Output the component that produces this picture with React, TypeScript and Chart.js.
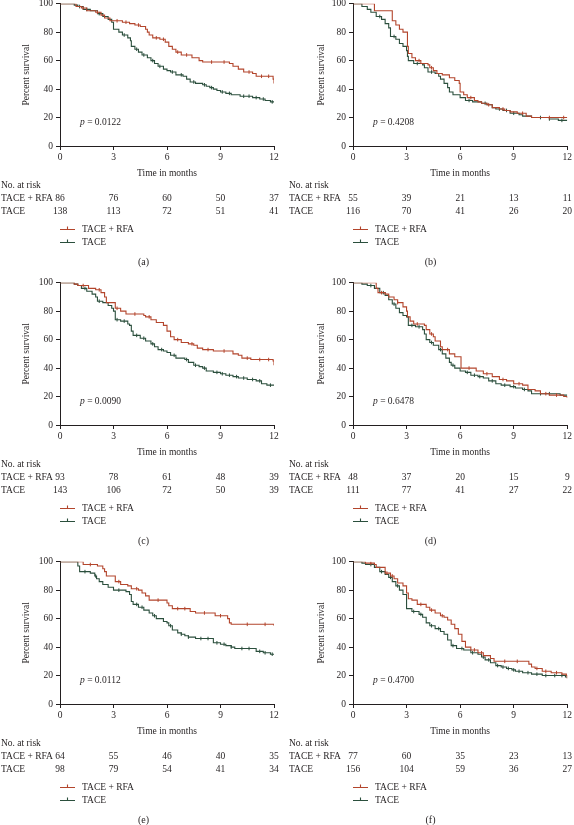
import React, { useEffect, useRef } from 'react';
import { Chart, registerables } from 'chart.js';

Chart.register(...registerables);

type Pt = [number, number];

const MONTH_TICKS = [0, 3, 6, 9, 12];
const SURVIVAL_TICKS = [0, 20, 40, 60, 80, 100];
const GROUP_NAMES = ['TACE + RFA', 'TACE'];
const PANEL_CAPTIONS = ['(a)', '(b)', '(c)', '(d)', '(e)', '(f)'];
const P_VALUES = ['0.0122', '0.4208', '0.0090', '0.6478', '0.0112', '0.4700'];

// ---------- panel (a)
const A_RFA: Pt[] = [[0,100],[0.9,98],[1.2,97],[1.5,95],[2.0,94],[2.3,92],[2.5,90],[2.8,88],[3.5,87],[3.9,86],[4.2,85],[4.5,84],[4.8,82],[4.9,80],[5.0,78],[5.2,76],[5.6,75],[5.9,73],[6.1,70],[6.3,68],[6.5,66],[6.8,64],[7.4,62],[7.8,60],[8.0,59],[9.5,58],[9.7,56],[10.0,54],[10.3,52],[10.8,51],[11.0,49],[11.95,47],[12,44]];
const A_TACE: Pt[] = [[0,100],[0.8,99],[1.0,98],[1.3,96],[1.7,95],[2.1,93],[2.4,91],[2.7,89],[2.9,87],[3.0,82],[3.3,80],[3.5,78],[3.8,76],[3.95,74],[4.0,70],[4.2,68],[4.4,66],[4.6,64],[4.9,62],[5.1,60],[5.3,58],[5.5,56],[5.8,54],[6.0,53],[6.2,52],[6.5,50],[6.9,49],[7.1,47],[7.3,45],[7.6,44],[8.0,43],[8.2,42],[8.4,41],[8.6,40],[8.8,39],[9.0,38],[9.3,37],[9.6,36],[10.1,35],[10.8,34],[11.2,33],[11.5,32],[11.8,31],[12,31]];
const A_RFA_CENSOR = [1.3, 2.1, 3.2, 3.7, 4.4, 5.4, 5.8, 6.6, 7.1, 8.5, 9.2, 10.6, 11.3, 11.7];
const A_TACE_CENSOR = [1.1, 1.5, 2.2, 3.6, 4.3, 4.7, 5.2, 5.6, 6.3, 6.8, 7.5, 8.1, 8.5, 9.1, 9.5, 10.3, 10.6, 11.0, 11.4, 11.9];
const A_RISK_RFA = [86, 76, 60, 50, 37];
const A_RISK_TACE = [138, 113, 72, 51, 41];

// ---------- panel (b)
const B_RFA: Pt[] = [[0,100],[1.2,95],[2.2,88],[2.4,85],[2.6,82],[2.8,80],[3.05,70],[3.1,65],[3.3,62],[3.5,60],[3.8,58],[4.2,57],[4.3,55],[4.5,53],[4.7,51],[5.0,50],[5.4,48],[5.7,46],[5.95,44],[6.0,38],[6.2,36],[6.4,34],[6.8,32],[7.0,31],[7.2,30],[7.5,29],[7.8,27],[8.2,26],[8.5,25],[8.8,24],[9.2,23],[9.7,21],[10.0,20],[12,20]];
const B_TACE: Pt[] = [[0,100],[0.5,98],[0.8,96],[1.0,94],[1.3,91],[1.6,89],[1.8,86],[2.0,83],[2.1,77],[2.4,75],[2.6,72],[2.8,70],[3.0,67],[3.05,63],[3.1,60],[3.4,58],[3.9,57],[4.0,55],[4.2,52],[4.6,51],[4.8,49],[4.9,47],[5.1,44],[5.3,41],[5.4,38],[5.6,36],[6.0,34],[6.3,32],[6.7,31],[7.2,30],[7.5,29],[7.8,27],[8.0,26],[8.4,25],[8.8,23],[9.3,22],[9.5,21],[10.0,20],[11.0,19],[11.5,18],[12,18]];
const B_RFA_CENSOR = [3.7, 4.4, 6.6, 7.6, 8.4, 9.5, 11.0, 11.8];
const B_TACE_CENSOR = [1.5, 2.3, 3.6, 4.4, 6.5, 7.4, 8.2, 8.6, 9.0, 10.5, 11.0, 11.7];
const B_RISK_RFA = [55, 39, 21, 13, 11];
const B_RISK_TACE = [116, 70, 41, 26, 20];

// ---------- panel (c)
const C_RFA: Pt[] = [[0,100],[0.8,99],[1.0,98],[1.6,96],[2.0,95],[2.3,93],[2.5,90],[2.6,86],[3.1,82],[3.4,80],[3.7,78],[4.7,77],[4.8,76],[5.1,74],[5.4,72],[5.8,70],[6.0,66],[6.2,62],[6.4,60],[6.8,58],[7.2,57],[7.5,56],[7.7,54],[8.0,53],[8.6,52],[9.7,50],[10.0,49],[10.2,47],[10.7,46],[11.95,45],[12,42]];
const C_TACE: Pt[] = [[0,100],[0.8,99],[1.0,98],[1.2,96],[1.5,94],[1.8,92],[2.0,90],[2.1,87],[2.4,86],[2.7,84],[2.9,82],[3.0,80],[3.1,74],[3.4,73],[3.8,71],[3.9,70],[4.0,66],[4.1,63],[4.5,61],[4.8,59],[5.1,57],[5.3,55],[5.5,53],[5.8,52],[6.0,51],[6.2,49],[6.5,47],[7.0,46],[7.2,44],[7.5,42],[7.8,41],[8.0,40],[8.2,38],[8.6,37],[9.0,36],[9.3,35],[9.7,34],[10.0,33],[10.5,32],[11.0,31],[11.3,29],[11.6,28],[12,28]];
const C_RFA_CENSOR = [1.3, 2.2, 3.2, 4.2, 5.0, 6.6, 7.4, 8.3, 9.2, 10.5, 11.2, 11.7];
const C_TACE_CENSOR = [1.4, 2.2, 3.2, 3.6, 4.3, 4.7, 5.2, 5.7, 6.4, 7.1, 7.6, 8.1, 8.8, 9.1, 9.5, 9.9, 10.3, 10.8, 11.2, 11.8];
const C_RISK_RFA = [93, 78, 61, 48, 39];
const C_RISK_TACE = [143, 106, 72, 50, 39];

// ---------- panel (d)
const D_RFA: Pt[] = [[0,100],[1.3,96],[1.4,93],[1.8,92],[2.0,90],[2.3,88],[2.5,86],[2.8,83],[3.0,80],[3.05,76],[3.2,73],[3.4,71],[4.0,70],[4.1,67],[4.3,64],[4.5,62],[4.6,59],[4.9,55],[5.0,53],[5.4,50],[5.7,48],[6.05,40],[6.9,38],[7.3,36],[7.8,34],[8.2,32],[8.6,31],[9.0,29],[9.5,28],[9.8,25],[10.2,24],[10.5,22],[11.0,21],[11.8,20],[12,19]];
const D_TACE: Pt[] = [[0,100],[0.5,99],[0.8,98],[1.2,96],[1.5,93],[1.8,91],[2.0,88],[2.2,85],[2.4,82],[2.6,79],[2.8,77],[3.0,76],[3.1,70],[3.5,69],[3.9,67],[4.0,64],[4.1,60],[4.3,58],[4.5,56],[4.8,53],[5.0,50],[5.2,47],[5.4,44],[5.5,42],[5.7,40],[6.0,38],[6.3,37],[6.6,35],[7.0,34],[7.3,33],[7.6,31],[8.0,29],[8.3,28],[8.8,27],[9.1,26],[9.5,25],[9.8,24],[10.0,22],[11.5,22],[11.6,21],[12,21]];
const D_RFA_CENSOR = [1.6, 2.5, 3.6, 4.4, 5.3, 6.5, 7.5, 8.4, 9.3, 10.8, 11.4];
const D_TACE_CENSOR = [1.0, 1.7, 2.3, 3.3, 3.7, 4.4, 4.9, 5.6, 6.4, 6.8, 7.1, 7.8, 8.5, 9.0, 9.6, 10.5, 11.0];
const D_RISK_RFA = [48, 37, 20, 15, 9];
const D_RISK_TACE = [111, 77, 41, 27, 22];

// ---------- panel (e)
const E_RFA: Pt[] = [[0,100],[1.3,98],[2.1,97],[2.4,95],[2.5,93],[2.6,90],[3.1,86],[3.4,84],[3.8,83],[4.0,81],[4.4,80],[4.6,78],[4.8,76],[5.0,73],[6.0,71],[6.1,69],[6.3,67],[7.3,65],[7.6,64],[8.7,62],[9.4,60],[9.5,57],[9.6,56],[11.95,56],[12,55]];
const E_TACE: Pt[] = [[0,100],[1.0,97],[1.1,93],[1.7,92],[1.95,90],[2.05,88],[2.2,86],[2.4,84],[2.7,82],[3.0,80],[3.7,79],[3.9,77],[4.0,72],[4.1,70],[4.4,68],[4.7,66],[5.0,64],[5.2,62],[5.4,60],[5.8,58],[6.0,57],[6.1,55],[6.3,52],[6.6,50],[6.8,49],[7.0,48],[7.2,47],[7.6,46],[8.6,43],[9.0,42],[9.3,41],[9.6,40],[9.8,39],[11.0,37],[11.4,36],[11.8,35],[12,35]];
const E_RFA_CENSOR = [1.7, 3.3, 4.3, 5.5, 6.6, 7.0, 8.1, 9.0, 10.5, 11.5];
const E_TACE_CENSOR = [1.4, 2.0, 3.3, 4.3, 4.6, 5.3, 6.2, 6.8, 7.2, 7.9, 8.3, 8.8, 9.2, 9.6, 10.2, 10.6, 11.2, 11.5, 11.9];
const E_RISK_RFA = [64, 55, 46, 40, 35];
const E_RISK_TACE = [98, 79, 54, 41, 34];

// ---------- panel (f)
const F_RFA: Pt[] = [[0,100],[0.7,99],[1.2,98],[1.3,96],[1.8,92],[2.1,90],[2.3,88],[2.5,85],[2.8,83],[3.0,78],[3.1,74],[3.3,73],[3.6,70],[4.1,68],[4.3,66],[4.6,64],[4.9,62],[5.1,61],[5.3,59],[5.5,56],[5.7,53],[5.9,49],[6.1,44],[6.3,40],[6.6,38],[7.0,36],[7.3,34],[7.7,32],[7.9,30],[9.85,28],[10.0,26],[10.2,25],[10.6,23],[11.1,22],[11.7,21],[11.95,20],[12,18]];
const F_TACE: Pt[] = [[0,100],[0.5,99],[0.7,98],[1.2,96],[1.5,93],[1.8,91],[2.0,89],[2.2,86],[2.4,83],[2.6,80],[2.8,77],[3.0,67],[3.3,65],[3.7,63],[3.9,61],[4.1,57],[4.3,55],[4.6,53],[4.9,51],[5.1,49],[5.3,45],[5.5,41],[5.8,39],[6.2,38],[6.6,36],[7.0,35],[7.2,33],[7.4,31],[7.7,29],[8.0,27],[8.3,26],[8.6,25],[8.9,24],[9.1,23],[9.5,22],[10.0,21],[10.6,20],[11.5,20],[11.9,19],[12,19]];
const F_RFA_CENSOR = [1.0, 1.9, 2.2, 3.8, 4.4, 5.0, 6.8, 7.2, 8.5, 9.2, 10.3, 10.8, 11.4];
const F_TACE_CENSOR = [1.0, 1.6, 2.1, 2.5, 3.4, 3.8, 4.4, 4.8, 5.6, 6.1, 6.7, 7.3, 7.6, 8.1, 8.4, 8.7, 9.0, 9.3, 9.8, 10.3, 10.8, 11.3, 11.7];
const F_RISK_RFA = [77, 60, 35, 23, 13];
const F_RISK_TACE = [156, 104, 59, 36, 27];

const FONT_FAMILY = "'Liberation Serif', 'Times New Roman', serif";
const TEXT = '#231f20';
const RED = '#b3452c';
const GREEN = '#2b4f3d';

const CANVAS_W = 287;
const CANVAS_H = 280;

interface PanelProps {
  idx: number;
  rfa: Pt[];
  tace: Pt[];
  rfaCensor: number[];
  taceCensor: number[];
  riskRfa: number[];
  riskTace: number[];
  right: boolean;
  left: number;
  top: number;
}

function survAt(steps: Pt[], t: number): number {
  let s = steps[0][1];
  for (const [x, y] of steps) {
    if (x <= t) s = y;
    else break;
  }
  return s;
}

function KMPanel(props: PanelProps) {
  const ref = useRef<HTMLCanvasElement>(null);
  useEffect(() => {
    const { idx, rfa, tace, rfaCensor, taceCensor, riskRfa, riskTace, right } = props;
    const canvas = ref.current;
    if (!canvas) return;
    const font = { family: FONT_FAMILY, size: 9.5 };

    const extras = {
      id: 'kmExtras',
      afterDraw(chart: any) {
        const { ctx, chartArea: ca, scales } = chart;
        const xs = scales.x;
        const ys = scales.y;
        ctx.save();
        ctx.fillStyle = TEXT;
        ctx.textBaseline = 'middle';
        // p value
        const px = ca.left + 20;
        const py = ys.getPixelForValue(16.5);
        ctx.textAlign = 'left';
        ctx.font = `italic 9.5px ${FONT_FAMILY}`;
        ctx.fillText('p', px, py);
        const pw = ctx.measureText('p').width;
        ctx.font = `9.5px ${FONT_FAMILY}`;
        ctx.fillText(` = ${P_VALUES[idx]}`, px + pw, py);
        // number at risk table
        const lx = right ? 2 : 1;
        ctx.fillText('No. at risk', lx, ca.bottom + 39);
        [riskRfa, riskTace].forEach((row, r) => {
          const y = ca.bottom + 52 + r * 13;
          ctx.textAlign = 'left';
          ctx.fillText(GROUP_NAMES[r], lx, y);
          ctx.textAlign = 'center';
          row.forEach((n, i) => {
            ctx.fillText(String(n), xs.getPixelForValue(MONTH_TICKS[i]), y);
          });
        });
        // legend
        [RED, GREEN].forEach((c, r) => {
          const y = Math.round(ca.bottom + 83 + r * 12.5) + 0.5;
          ctx.strokeStyle = c;
          ctx.lineWidth = 1.1;
          ctx.beginPath();
          ctx.moveTo(ca.left, y);
          ctx.lineTo(ca.left + 15, y);
          ctx.moveTo(ca.left + 7.5, y - 3);
          ctx.lineTo(ca.left + 7.5, y);
          ctx.stroke();
          ctx.textAlign = 'left';
          ctx.fillText(GROUP_NAMES[r], ca.left + 22, y);
        });
        // caption
        ctx.font = `10px ${FONT_FAMILY}`;
        ctx.textAlign = 'center';
        ctx.fillText(PANEL_CAPTIONS[idx], chart.width / 2, ca.bottom + 116);
        ctx.restore();
      },
    };

    const stepSet = (label: string, pts: Pt[], color: string) => ({
      label,
      data: pts.map(([x, y]) => ({ x, y })),
      borderColor: color,
      backgroundColor: color,
      borderWidth: 1.1,
      stepped: 'before' as const,
      pointRadius: 0,
      fill: false,
    });
    const censorSet = (label: string, times: number[], pts: Pt[], color: string) => ({
      label,
      data: times.map((t) => ({ x: t, y: survAt(pts, t) })),
      showLine: false,
      borderColor: color,
      backgroundColor: color,
      pointStyle: 'line' as const,
      pointRotation: 90,
      pointRadius: 1.8,
      pointBorderWidth: 1,
      pointBorderColor: color,
    });

    const chart = new Chart(canvas, {
      type: 'line',
      data: {
        datasets: [
          stepSet(GROUP_NAMES[0], rfa, RED),
          censorSet(GROUP_NAMES[0] + ' censored', rfaCensor, rfa, RED),
          stepSet(GROUP_NAMES[1], tace, GREEN),
          censorSet(GROUP_NAMES[1] + ' censored', taceCensor, tace, GREEN),
        ] as any,
      },
      options: {
        animation: false,
        responsive: false,
        maintainAspectRatio: false,
        layout: { padding: { top: 8, left: 0, right: right ? 6 : 13, bottom: 96 } },
        plugins: { legend: { display: false }, tooltip: { enabled: false } },
        scales: {
          x: {
            type: 'linear',
            min: 0,
            max: 12,
            afterBuildTicks: (s: any) => {
              s.ticks = MONTH_TICKS.map((v) => ({ value: v }));
            },
            afterFit: (s: any) => {
              s.height = 33;
            },
            ticks: { font, color: TEXT, padding: 2, maxRotation: 0, autoSkip: false },
            grid: { display: true, drawOnChartArea: false, drawTicks: true, tickLength: 4, color: TEXT, lineWidth: 1 },
            border: { display: true, color: TEXT, width: 1 },
            title: { display: true, text: 'Time in months', font, color: TEXT, padding: { top: 0, bottom: 0 } },
          },
          y: {
            type: 'linear',
            min: 0,
            max: 100,
            afterBuildTicks: (s: any) => {
              s.ticks = SURVIVAL_TICKS.map((v) => ({ value: v }));
            },
            afterFit: (s: any) => {
              s.width = right ? 66 : 60;
            },
            ticks: { font, color: TEXT, padding: 3, autoSkip: false },
            grid: { display: true, drawOnChartArea: false, drawTicks: true, tickLength: 4, color: TEXT, lineWidth: 1 },
            border: { display: true, color: TEXT, width: 1 },
            title: {
              display: true,
              text: 'Percent survival',
              font,
              color: TEXT,
              padding: { top: right ? 29 : 21, bottom: 0 },
            },
          },
        },
      } as any,
      plugins: [extras],
    });
    return () => chart.destroy();
  }, []);

  return (
    <canvas
      ref={ref}
      width={CANVAS_W}
      height={CANVAS_H}
      style={{ position: 'absolute', left: props.left, top: props.top, width: CANVAS_W, height: CANVAS_H }}
    />
  );
}

const ROW_TOPS = [-5, 274, 553];
const COL_LEFTS = [0, 287];

export default function App() {
  const panels = [
    { rfa: A_RFA, tace: A_TACE, rfaCensor: A_RFA_CENSOR, taceCensor: A_TACE_CENSOR, riskRfa: A_RISK_RFA, riskTace: A_RISK_TACE },
    { rfa: B_RFA, tace: B_TACE, rfaCensor: B_RFA_CENSOR, taceCensor: B_TACE_CENSOR, riskRfa: B_RISK_RFA, riskTace: B_RISK_TACE },
    { rfa: C_RFA, tace: C_TACE, rfaCensor: C_RFA_CENSOR, taceCensor: C_TACE_CENSOR, riskRfa: C_RISK_RFA, riskTace: C_RISK_TACE },
    { rfa: D_RFA, tace: D_TACE, rfaCensor: D_RFA_CENSOR, taceCensor: D_TACE_CENSOR, riskRfa: D_RISK_RFA, riskTace: D_RISK_TACE },
    { rfa: E_RFA, tace: E_TACE, rfaCensor: E_RFA_CENSOR, taceCensor: E_TACE_CENSOR, riskRfa: E_RISK_RFA, riskTace: E_RISK_TACE },
    { rfa: F_RFA, tace: F_TACE, rfaCensor: F_RFA_CENSOR, taceCensor: F_TACE_CENSOR, riskRfa: F_RISK_RFA, riskTace: F_RISK_TACE },
  ];
  return (
    <div
      style={{
        position: 'absolute',
        left: 0,
        top: 0,
        width: 574,
        height: 825,
        overflow: 'hidden',
        background: '#ffffff',
      }}
    >
      {panels.map((p, i) => (
        <KMPanel
          key={i}
          idx={i}
          {...p}
          right={i % 2 === 1}
          left={COL_LEFTS[i % 2]}
          top={ROW_TOPS[Math.floor(i / 2)]}
        />
      ))}
    </div>
  );
}
